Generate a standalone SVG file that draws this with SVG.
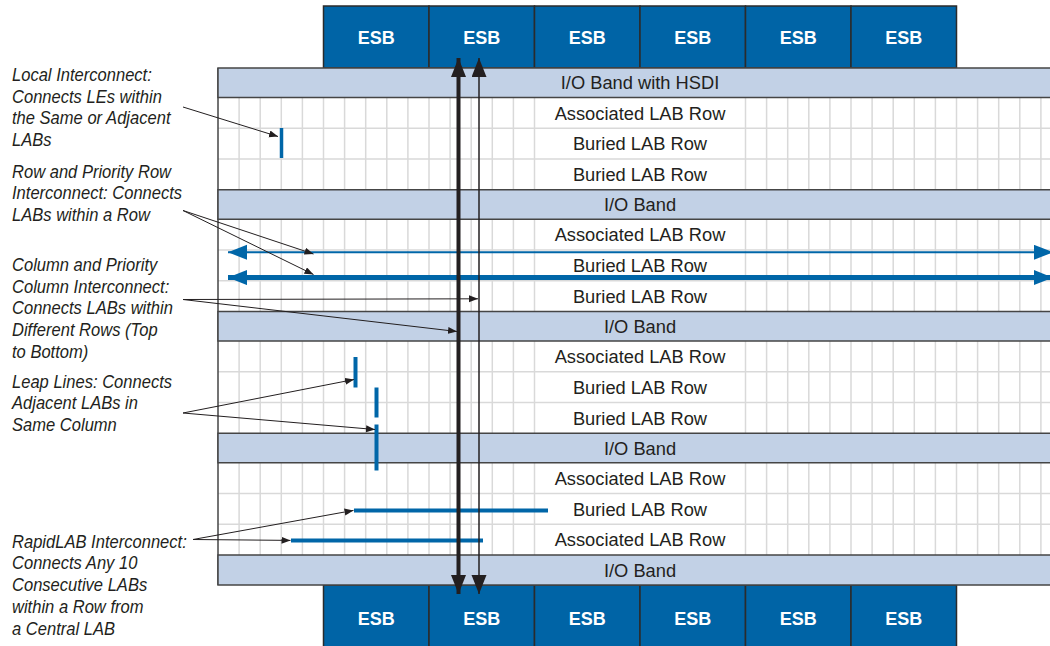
<svg xmlns="http://www.w3.org/2000/svg" width="1050" height="646" viewBox="0 0 1050 646">
<style>
.esb{fill:#0064a6;stroke:#2b2b2b;stroke-width:1.5}
.esbt{font-family:"Liberation Sans",Arial,sans-serif;font-weight:bold;font-size:18px;fill:#ffffff;text-anchor:middle}
.band{fill:#c2d1e6;stroke:#454545;stroke-width:1.5}
.rowt{font-family:"Liberation Sans",Arial,sans-serif;font-size:18.3px;fill:#231f20;text-anchor:middle}
.grid{stroke:#d9d9d9;stroke-width:1.5}
.lbl{font-family:"Liberation Sans",Arial,sans-serif;font-style:italic;font-size:18px;fill:#231f20}
.lead{stroke:#231f20;stroke-width:1;fill:none;marker-end:url(#sa)}
.blue{stroke:#0066a8;fill:none}
.col{stroke:#231f20;fill:none}
</style>
<defs>
<marker id="sa" markerUnits="userSpaceOnUse" markerWidth="10" markerHeight="8" refX="9" refY="3.5" orient="auto"><path d="M0,0 L9,3.5 L0,7 z" fill="#231f20"/></marker>
<marker id="ba" markerUnits="userSpaceOnUse" markerWidth="20" markerHeight="16" refX="19" refY="7.5" orient="auto-start-reverse"><path d="M0,0 L19,7.5 L0,15 z" fill="#0066a8"/></marker>
<marker id="ka" markerUnits="userSpaceOnUse" markerWidth="20" markerHeight="16" refX="19" refY="7.5" orient="auto-start-reverse"><path d="M0,0 L19,7.5 L0,15 z" fill="#231f20"/></marker>
</defs>

<g id="grid">
<g class="grid">
<line x1="218" y1="128.25" x2="1052" y2="128.25"/><line x1="218" y1="159" x2="1052" y2="159"/>
<line x1="218" y1="250" x2="1052" y2="250"/><line x1="218" y1="280.75" x2="1052" y2="280.75"/>
<line x1="218" y1="371.75" x2="1052" y2="371.75"/><line x1="218" y1="402.5" x2="1052" y2="402.5"/>
<line x1="218" y1="493.5" x2="1052" y2="493.5"/><line x1="218" y1="524.25" x2="1052" y2="524.25"/>
<line x1="239.1" y1="97" x2="239.1" y2="556"/><line x1="260.2" y1="97" x2="260.2" y2="556"/><line x1="281.3" y1="97" x2="281.3" y2="556"/><line x1="302.4" y1="97" x2="302.4" y2="556"/><line x1="323.5" y1="97" x2="323.5" y2="556"/>
<line x1="344.6" y1="97" x2="344.6" y2="556"/><line x1="365.7" y1="97" x2="365.7" y2="556"/><line x1="386.8" y1="97" x2="386.8" y2="556"/><line x1="407.9" y1="97" x2="407.9" y2="556"/><line x1="429" y1="97" x2="429" y2="556"/>
<line x1="450.1" y1="97" x2="450.1" y2="556"/><line x1="471.2" y1="97" x2="471.2" y2="556"/><line x1="492.3" y1="97" x2="492.3" y2="556"/><line x1="513.4" y1="97" x2="513.4" y2="556"/><line x1="534.5" y1="97" x2="534.5" y2="556"/>
<line x1="745.5" y1="97" x2="745.5" y2="556"/><line x1="766.6" y1="97" x2="766.6" y2="556"/><line x1="787.7" y1="97" x2="787.7" y2="556"/><line x1="808.8" y1="97" x2="808.8" y2="556"/><line x1="829.9" y1="97" x2="829.9" y2="556"/>
<line x1="851" y1="97" x2="851" y2="556"/><line x1="872.1" y1="97" x2="872.1" y2="556"/><line x1="893.2" y1="97" x2="893.2" y2="556"/><line x1="914.3" y1="97" x2="914.3" y2="556"/><line x1="935.4" y1="97" x2="935.4" y2="556"/>
<line x1="956.5" y1="97" x2="956.5" y2="556"/><line x1="977.6" y1="97" x2="977.6" y2="556"/><line x1="998.7" y1="97" x2="998.7" y2="556"/><line x1="1019.8" y1="97" x2="1019.8" y2="556"/><line x1="1040.9" y1="97" x2="1040.9" y2="556"/>
</g>
<line x1="218" y1="68" x2="218" y2="585" stroke="#454545" stroke-width="1.5"/>
</g>

<g id="esb-top">
<g id="esb-t1"><rect class="esb" x="323.5" y="6" width="105.5" height="62"/><text class="esbt" x="376.25" y="43.5">ESB</text></g>
<g id="esb-t2"><rect class="esb" x="429" y="6" width="105.5" height="62"/><text class="esbt" x="481.75" y="43.5">ESB</text></g>
<g id="esb-t3"><rect class="esb" x="534.5" y="6" width="105.5" height="62"/><text class="esbt" x="587.25" y="43.5">ESB</text></g>
<g id="esb-t4"><rect class="esb" x="640" y="6" width="105.5" height="62"/><text class="esbt" x="692.75" y="43.5">ESB</text></g>
<g id="esb-t5"><rect class="esb" x="745.5" y="6" width="105.5" height="62"/><text class="esbt" x="798.25" y="43.5">ESB</text></g>
<g id="esb-t6"><rect class="esb" x="851" y="6" width="105.5" height="62"/><text class="esbt" x="903.75" y="43.5">ESB</text></g>
</g>
<g id="esb-bottom">
<g id="esb-b1"><rect class="esb" x="323.5" y="585" width="105.5" height="66"/><text class="esbt" x="376.25" y="624.5">ESB</text></g>
<g id="esb-b2"><rect class="esb" x="429" y="585" width="105.5" height="66"/><text class="esbt" x="481.75" y="624.5">ESB</text></g>
<g id="esb-b3"><rect class="esb" x="534.5" y="585" width="105.5" height="66"/><text class="esbt" x="587.25" y="624.5">ESB</text></g>
<g id="esb-b4"><rect class="esb" x="640" y="585" width="105.5" height="66"/><text class="esbt" x="692.75" y="624.5">ESB</text></g>
<g id="esb-b5"><rect class="esb" x="745.5" y="585" width="105.5" height="66"/><text class="esbt" x="798.25" y="624.5">ESB</text></g>
<g id="esb-b6"><rect class="esb" x="851" y="585" width="105.5" height="66"/><text class="esbt" x="903.75" y="624.5">ESB</text></g>
</g>

<g id="band-hsdi"><rect class="band" x="218" y="68" width="836" height="29.5"/><text class="rowt" x="640" y="89.3">I/O Band with HSDI</text></g>
<g id="band-2"><rect class="band" x="218" y="189.75" width="836" height="29.5"/><text class="rowt" x="640" y="211">I/O Band</text></g>
<g id="band-3"><rect class="band" x="218" y="311.5" width="836" height="29.5"/><text class="rowt" x="640" y="332.8">I/O Band</text></g>
<g id="band-4"><rect class="band" x="218" y="433.25" width="836" height="29.5"/><text class="rowt" x="640" y="454.5">I/O Band</text></g>
<g id="band-5"><rect class="band" x="218" y="555" width="836" height="30"/><text class="rowt" x="640" y="576.5">I/O Band</text></g>

<g id="rows">
<text class="rowt" x="640" y="119.5">Associated LAB Row</text>
<text class="rowt" x="640" y="150.2">Buried LAB Row</text>
<text class="rowt" x="640" y="181">Buried LAB Row</text>
<text class="rowt" x="640" y="241.3">Associated LAB Row</text>
<text class="rowt" x="640" y="271.5">Buried LAB Row</text>
<text class="rowt" x="640" y="302.8">Buried LAB Row</text>
<text class="rowt" x="640" y="363">Associated LAB Row</text>
<text class="rowt" x="640" y="393.8">Buried LAB Row</text>
<text class="rowt" x="640" y="424.5">Buried LAB Row</text>
<text class="rowt" x="640" y="484.8">Associated LAB Row</text>
<text class="rowt" x="640" y="515.5">Buried LAB Row</text>
<text class="rowt" x="640" y="546.3">Associated LAB Row</text>
</g>

<g id="interconnects">
<line class="blue" x1="281.5" y1="128" x2="281.5" y2="158" stroke-width="3.5"/>
<line class="blue" x1="228" y1="252.3" x2="1053" y2="252.3" stroke-width="2" marker-start="url(#ba)" marker-end="url(#ba)"/>
<line class="blue" x1="228" y1="277.6" x2="1053" y2="277.6" stroke-width="5" marker-start="url(#ba)" marker-end="url(#ba)"/>
<line class="blue" x1="355.5" y1="357" x2="355.5" y2="387.5" stroke-width="4"/>
<line class="blue" x1="376.5" y1="387.5" x2="376.5" y2="417.5" stroke-width="4"/>
<line class="blue" x1="376.5" y1="424.5" x2="376.5" y2="470.5" stroke-width="4"/>
<line class="blue" x1="354" y1="510.4" x2="548" y2="510.4" stroke-width="4"/>
<line class="blue" x1="291" y1="540.4" x2="483" y2="540.4" stroke-width="4"/>
<line class="col" x1="458.5" y1="58" x2="458.5" y2="594" stroke-width="4" marker-start="url(#ka)" marker-end="url(#ka)"/>
<line class="col" x1="479" y1="58" x2="479" y2="594" stroke-width="1.5" marker-start="url(#ka)" marker-end="url(#ka)"/>
</g>

<g id="connectors">
<line class="lead" x1="183" y1="107" x2="278" y2="136.5"/>
<line class="lead" x1="183" y1="210.5" x2="313.5" y2="254"/>
<line class="lead" x1="183" y1="210.5" x2="313.5" y2="274.5"/>
<line class="lead" x1="183" y1="299.5" x2="478" y2="298.8"/>
<line class="lead" x1="183" y1="299.5" x2="457" y2="331.5"/>
<line class="lead" x1="183" y1="413" x2="354" y2="379.5"/>
<line class="lead" x1="183" y1="413" x2="375" y2="429.5"/>
<line class="lead" x1="193" y1="539.5" x2="353.5" y2="510.4"/>
<line class="lead" x1="193" y1="539.5" x2="290.5" y2="540.4"/>
</g>

<g id="labels" transform="scale(0.92,1)">
<g id="lbl-local"><text class="lbl" x="13.04" y="81">Local Interconnect:</text><text class="lbl" x="13.04" y="102.7">Connects LEs within</text><text class="lbl" x="13.04" y="124.4">the Same or Adjacent</text><text class="lbl" x="13.04" y="146.1">LABs</text></g>
<g id="lbl-row"><text class="lbl" x="13.04" y="177.7">Row and Priority Row</text><text class="lbl" x="13.04" y="199.4">Interconnect: Connects</text><text class="lbl" x="13.04" y="221.1">LABs within a Row</text></g>
<g id="lbl-col"><text class="lbl" x="13.04" y="271.1">Column and Priority</text><text class="lbl" x="13.04" y="292.8">Column Interconnect:</text><text class="lbl" x="13.04" y="314.5">Connects LABs within</text><text class="lbl" x="13.04" y="336.2">Different Rows (Top</text><text class="lbl" x="13.04" y="357.9">to Bottom)</text></g>
<g id="lbl-leap"><text class="lbl" x="13.04" y="387.8">Leap Lines: Connects</text><text class="lbl" x="13.04" y="409.5">Adjacent LABs in</text><text class="lbl" x="13.04" y="431.2">Same Column</text></g>
<g id="lbl-rapid"><text class="lbl" x="13.04" y="547.8">RapidLAB Interconnect:</text><text class="lbl" x="13.04" y="569.5">Connects Any 10</text><text class="lbl" x="13.04" y="591.2">Consecutive LABs</text><text class="lbl" x="13.04" y="612.9">within a Row from</text><text class="lbl" x="13.04" y="634.6">a Central LAB</text></g>
</g>
</svg>
